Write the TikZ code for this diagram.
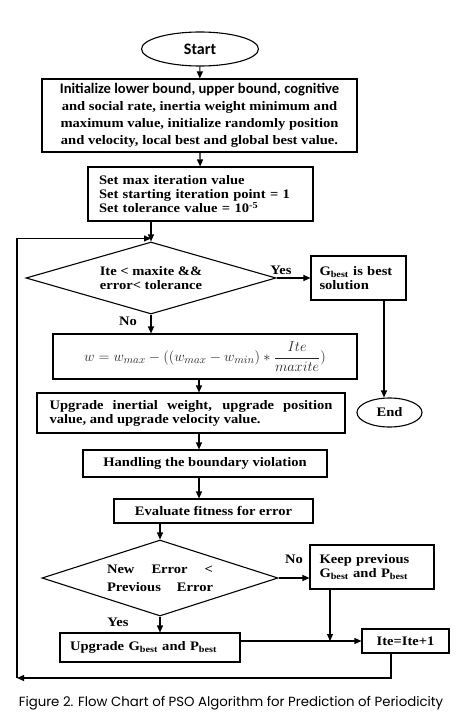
\documentclass[tikz,border=0pt]{standalone}
\usepackage{fontspec}
\setmainfont[FakeStretch=1.12]{Liberation Serif}
\newfontfamily\calibri{Carlito}
\newfontfamily\capfont{Poppins}
\usetikzlibrary{shapes.geometric,arrows.meta}
\begin{document}
\begin{tikzpicture}[x=1pt,y=-1pt,
  base/.style={draw=black, line width=1.1pt, inner sep=0pt, font=\bfseries\fontsize{13}{14}\selectfont},
  proc/.style={base, rectangle},
  term/.style={base, ellipse},
  dec/.style={base, diamond},
  arr/.style={line width=1.1pt, -{Triangle[length=7pt,width=6pt]}},
  lbl/.style={font=\bfseries\fontsize{13}{14}\selectfont, inner sep=0pt}]
\useasboundingbox (0,0) rectangle (470,720);

\node[term, minimum width=117pt, minimum height=34pt, font=\calibri\bfseries\fontsize{16}{18}\selectfont] (start) at (200,49) {Start};
\node[proc, minimum width=315pt, minimum height=73pt, align=center, font=\bfseries\fontsize{13}{17}\selectfont] (init) at (199.5,115.5)
  {{\calibri\fontsize{14.6}{17}\selectfont Initialize lower bound, upper bound, cognitive}\\ and social rate, inertia weight minimum and\\ maximum value, initialize randomly position\\ and velocity, local best and global best value.};
\node[proc, minimum width=225pt, minimum height=54pt, text width=203pt, align=left] (setb) at (200.5,194)
  {Set max iteration value\\Set starting iteration point = 1\\Set tolerance value = 10\textsuperscript{-5}};
\node[dec, aspect=3.47, minimum width=250pt, minimum height=72pt, align=center] (d1) at (151,278) {Ite < maxite \&\&\\error< tolerance};
\node[proc, minimum width=95pt, minimum height=44pt, text width=78pt, align=left] (gbest) at (358.5,278) {G\textsubscript{best} is best\\solution};
\node[term, minimum width=65pt, minimum height=29pt] (endn) at (389.5,412.5) {End};
\node[proc, minimum width=304pt, minimum height=45pt, font=\fontsize{15.5}{17}\selectfont, text=black!85] (form) at (205,356.5)
  {$w = w_{max} - ((w_{max}-w_{min}) * \displaystyle\frac{Ite}{maxite})$};
\node[proc, minimum width=308pt, minimum height=40pt, text width=283pt, align=justify] (upg) at (191,413)
  {Upgrade inertial weight, upgrade position\linebreak value, and upgrade velocity value.};
\node[proc, minimum width=244pt, minimum height=27pt] (hand) at (205,463.5) {Handling the boundary violation};
\node[proc, minimum width=199pt, minimum height=24pt] (eval) at (213.5,511) {Evaluate fitness for error};
\node[dec, aspect=3.1, minimum width=236pt, minimum height=76pt, font=\bfseries\fontsize{13}{18}\selectfont] (d2) at (160,578)
  {\parbox{106pt}{New\hfill Error\hfill <\\Previous\hfill Error}};
\node[proc, minimum width=124pt, minimum height=44pt, text width=105pt, align=left] (keep) at (372,567) {Keep previous\\G\textsubscript{best} and P\textsubscript{best}};
\node[proc, minimum width=180pt, minimum height=29pt, text width=160pt, align=left] (upgb) at (150,647.5) {Upgrade G\textsubscript{best} and P\textsubscript{best}};
\node[proc, minimum width=87pt, minimum height=24pt] (ite) at (405.5,641) {Ite=Ite+1};

\node[lbl] (yes1) at (281,270) {Yes};
\node[lbl] (no1) at (128,321) {No};
\node[lbl] (no2) at (294,559) {No};
\node[lbl] (yes2) at (118,622) {Yes};

\node[font=\capfont\fontsize{13.3}{15}\selectfont, inner sep=0pt] (cap) at (231,703) {Figure 2. Flow Chart of PSO Algorithm for Prediction of Periodicity};

\coordinate (cx) at (199,0);
\coordinate (kx) at (330,0);
\coordinate (ix) at (391,0);
\coordinate (lb) at (17,678);
\coordinate (gbx) at ([xshift=25.5pt]gbest.south);

\draw[arr] (start) -- (init);
\draw[arr] (init) -- (setb);
\draw[arr] (setb.south -| d1.north) -- (d1.north);
\draw[arr] (d1.east) -- (gbest.west);
\draw[arr] (gbx) -- (gbx |- endn.north);
\draw[arr] (d1.south) -- (d1.south |- form.north);
\draw[arr] (cx |- form.south) -- (cx |- upg.north);
\draw[arr] (cx |- upg.south) -- (cx |- hand.north);
\draw[arr] (cx |- hand.south) -- (cx |- eval.north);
\draw[arr] (d2.north |- eval.south) -- (d2.north);
\draw[arr] (d2.east) -- (d2.east -| keep.west);
\draw[arr] (d2.south) -- (d2.south |- upgb.north);
\draw[arr] (upgb.east |- ite.west) -- (ite.west);
\draw[arr] (kx |- keep.south) -- (kx |- ite.west);
\draw[arr] (ix |- ite.south) |- (lb);
\draw[arr] (lb) |- ([yshift=3pt]d1.north);
\end{tikzpicture}
\end{document}
